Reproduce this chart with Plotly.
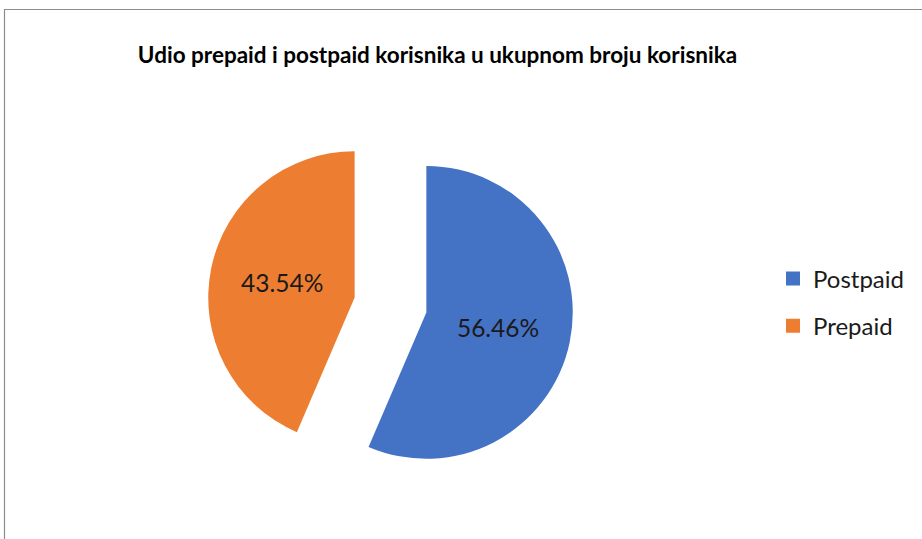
import plotly.graph_objects as go

labels = ["Postpaid", "Prepaid"]
values = [56.46, 43.54]
colors = ["#4472C4", "#ED7D31"]
title_text = "Udio prepaid i postpaid korisnika u ukupnom broju korisnika"

W, H = 922, 539

fig = go.Figure()
fig.add_trace(go.Pie(
    labels=labels,
    values=values,
    sort=False,
    direction="clockwise",
    rotation=0,
    pull=[0.25, 0.25],
    marker=dict(colors=colors, line=dict(width=0)),
    texttemplate="%{value:.2f}%",
    textposition="inside",
    insidetextorientation="horizontal",
    textfont=dict(family="Lato", size=24.5, color="#1a1a1a"),
    domain=dict(x=[(390.5 - 183) / W, (390.5 + 183) / W],
                y=[(234 - 183) / H, (234 + 183) / H]),
    hoverinfo="label+percent",
    showlegend=False,
))

# legend entries (one per slice) so the row spacing can match
for lab, col in zip(labels, colors):
    fig.add_trace(go.Scatter(
        x=[None], y=[None], mode="markers", name=lab, legendgroup=lab,
        marker=dict(symbol="square", size=14, color=col),
        hoverinfo="skip",
    ))

fig.update_layout(
    width=W, height=H,
    margin=dict(l=0, r=0, t=0, b=0),
    paper_bgcolor="white",
    plot_bgcolor="white",
    font=dict(family="Lato", color="#1a1a1a"),
    xaxis=dict(visible=False),
    yaxis=dict(visible=False),
    title=dict(text="<b>" + title_text + "</b>", x=437.5 / W, xanchor="center",
               y=(H - 55) / H, yanchor="middle",
               font=dict(family="Lato", size=22.5, color="black")),
    legend=dict(x=773 / W, xanchor="left", y=(H - 302.5) / H, yanchor="middle",
                font=dict(family="Lato", size=24, color="#1a1a1a"),
                tracegroupgap=13, itemsizing="trace",
                bgcolor="rgba(0,0,0,0)"),
    shapes=[dict(type="rect", xref="paper", yref="paper",
                 x0=4.5 / W, x1=1.05, y0=-0.05, y1=(H - 9.5) / H,
                 line=dict(color="#8c8c8c", width=1.2))],
)

fig.write_html("out.html", config={"displayModeBar": False},
               post_script="document.body.style.margin='0';document.body.style.overflow='hidden';")
